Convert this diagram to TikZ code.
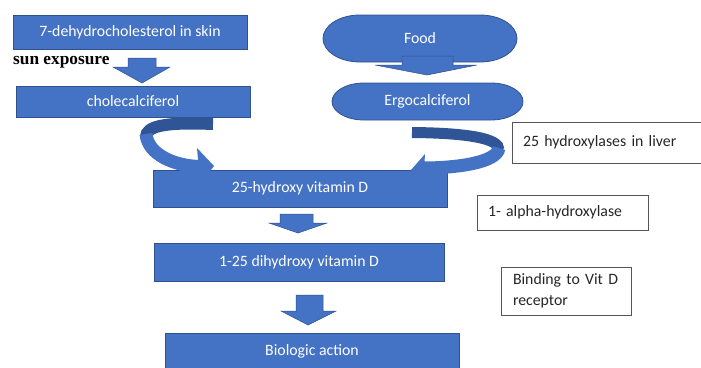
\documentclass[tikz,border=0pt]{standalone}
\usepackage{fontspec}
\setmainfont{Carlito}
\newfontfamily\serifbold{Liberation Serif}
\definecolor{vblue}{HTML}{4472C4}
\definecolor{vedge}{HTML}{2F528F}
\definecolor{vback}{HTML}{2F5597}
\definecolor{lbltext}{HTML}{262626}
\definecolor{lbledge}{HTML}{555555}
\begin{document}
\begin{tikzpicture}[x=1pt,y=-1pt,
  bluebox/.style={rectangle, draw=vedge, line width=0.8pt, fill=vblue, text=white,
    font=\fontsize{15.8}{18}\selectfont, inner sep=0pt},
  bluetext/.style={text=white, font=\fontsize{15.8}{18}\selectfont, inner sep=0pt},
  blueshape/.style={draw=vedge, line width=0.8pt, fill=vblue},
  notebox/.style={rectangle, draw=lbledge, line width=1pt, fill=white, text=lbltext,
    font=\fontsize{15.8}{21}\selectfont, align=left, inner ysep=0pt},
  blockarrow/.style={fill=vblue, draw=vedge, line width=0.5pt, line join=miter},
]
\useasboundingbox (0,0) rectangle (701,367);
\fill[white] (0,0) rectangle (701,367);

% left column boxes
\node[bluebox, minimum width=234pt, minimum height=34pt] (skin) at (130,32) {7-dehydrocholesterol in skin};
\node[bluebox, minimum width=234pt, minimum height=31pt] (chole) at (133,101.5) {cholecalciferol};
\node[anchor=base west, inner sep=0pt, font=\serifbold\bfseries\fontsize{17.3}{18}\selectfont] (sun) at (13,64.5) {sun exposure};

% right column stadiums
\path[blueshape] (360,15) -- (480,15) arc[start angle=90,end angle=-90,x radius=37pt,y radius=23.5pt]
  -- (360,62) arc[start angle=270,end angle=90,x radius=37pt,y radius=23.5pt] -- cycle;
\node[bluetext] (food) at (420,38.5) {Food};
\path[blueshape] (364,83) -- (491,83) arc[start angle=90,end angle=-90,x radius=32pt,y radius=18.5pt]
  -- (364,120) arc[start angle=270,end angle=90,x radius=32pt,y radius=18.5pt] -- cycle;
\node[bluetext] (ergo) at (427.5,101.5) {Ergocalciferol};

% central boxes
\node[bluebox, minimum width=294pt, minimum height=37pt] (hyd) at (300,188.5) {25-hydroxy vitamin D};
\node[bluebox, minimum width=290pt, minimum height=38pt] (dihyd) at (299,262) {1-25 dihydroxy vitamin D};
\node[bluebox, minimum width=294pt, minimum height=36pt] (bio) at (312,351) {Biologic action};

% straight block arrows
\path[blockarrow] (128,58) -- (156,58) -- (156,67) -- (170,67) -- (142,83) -- (113,67) -- (128,67) -- cycle;
\path[blockarrow] (402,56) -- (453,56) -- (453,65) -- (477,65) -- (427,75) -- (375,65) -- (402,65) -- cycle;
\path[blockarrow] (280,214) -- (313,214) -- (313,223) -- (327,223) -- (298,233) -- (269,223) -- (280,223) -- cycle;
\path[blockarrow] (296,295) -- (323,295) -- (323,311) -- (336,311) -- (308,325) -- (281,311) -- (296,311) -- cycle;

% left curved arrow
\draw[vback, line width=12pt] (213,124) .. controls (165,122) and (146,126) .. (146,137);
\draw[vblue, line width=13pt] (146,134) .. controls (148,155) and (175,166) .. (200,166.5);
\fill[vblue] (197,148) -- (214,166) -- (200,184) -- cycle;

% right curved arrow
\draw[vback, line width=11pt] (412,132.5) .. controls (465,133) and (500,138) .. (499,150);
\draw[vblue, line width=13pt] (499,148) .. controls (497,163) and (455,168) .. (423,168);
\fill[vblue] (425,154) -- (411,170) -- (423,186) -- cycle;

% note boxes
\node[notebox, minimum width=190pt, minimum height=41pt, inner xsep=11pt, text width=168pt] (liver) at (607,142.5) {25 hydroxylases in liver};
\node[notebox, minimum width=171pt, minimum height=35pt, inner xsep=11pt, text width=149pt] (alpha) at (562.5,212.5) {1- alpha-hydroxylase};
\node[notebox, minimum width=130pt, minimum height=48pt, inner xsep=12pt, text width=106pt] (bind) at (566,291) {Binding to Vit D\\receptor};
\end{tikzpicture}
\end{document}
